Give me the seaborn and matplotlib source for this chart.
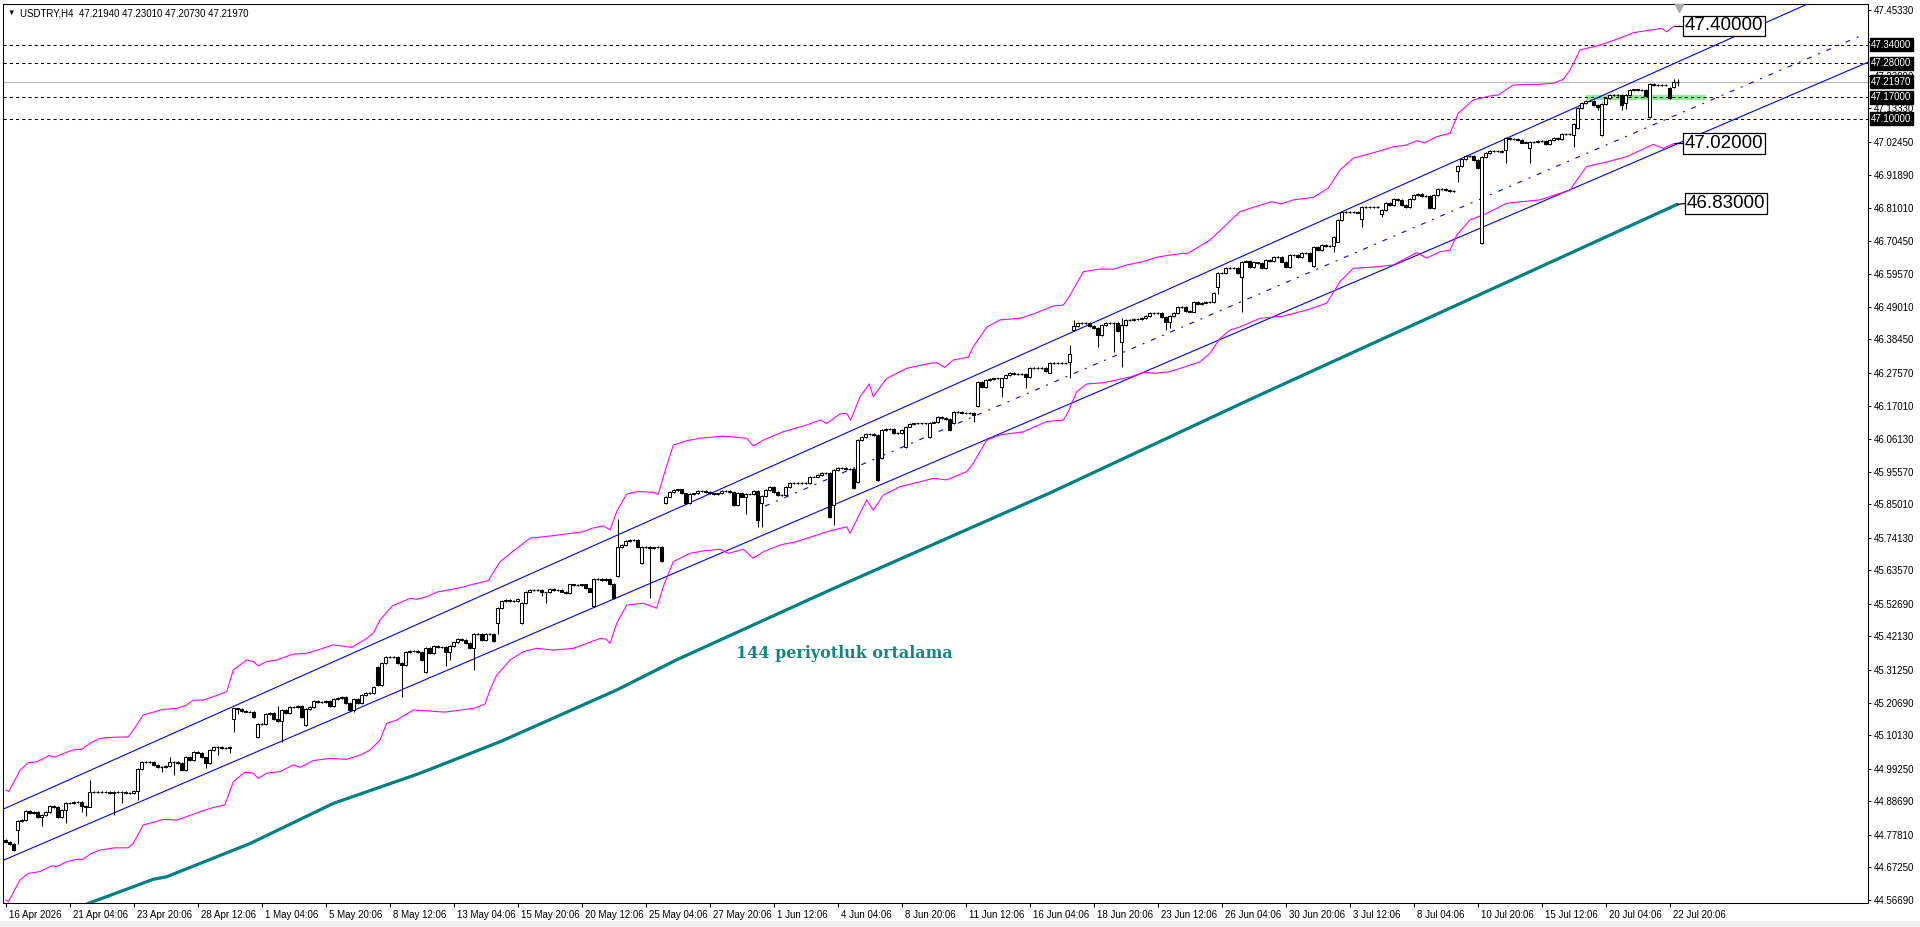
import numpy as np
import pandas as pd
import seaborn as sns
import matplotlib.pyplot as plt
from matplotlib.patches import Rectangle
from matplotlib.transforms import blended_transform_factory, ScaledTranslation

# -------------------------------
# Data (H4 bars, index 0 = 16 Apr 2026)
# -------------------------------
close = [
    44.756, 44.748, 44.729, 44.823, 44.826, 44.856, 44.848, 44.851, 44.835, 44.842,
    44.853, 44.873, 44.869, 44.837, 44.859, 44.880, 44.882, 44.886, 44.885, 44.872,
    44.869, 44.916, 44.918, 44.918, 44.918, 44.916, 44.915, 44.916, 44.918, 44.916,
    44.915, 44.915, 44.920, 44.992, 45.015, 45.015, 45.015, 45.005, 44.999, 44.999,
    45.001, 45.015, 45.015, 45.010, 44.988, 45.032, 45.021, 45.048, 45.045, 45.029,
    45.010, 45.053, 45.062, 45.064, 45.061, 45.061, 45.064, 45.188, 45.185, 45.181,
    45.178, 45.178, 45.161, 45.138, 45.138, 45.169, 45.172, 45.154, 45.148, 45.183,
    45.172, 45.192, 45.194, 45.196, 45.161, 45.185, 45.192, 45.213, 45.210, 45.210,
    45.213, 45.196, 45.219, 45.223, 45.224, 45.205, 45.183, 45.220, 45.205, 45.232,
    45.237, 45.237, 45.258, 45.264, 45.336, 45.356, 45.356, 45.356, 45.336, 45.329,
    45.372, 45.374, 45.375, 45.372,
    45.345, 45.383, 45.367, 45.390, 45.388, 45.386, 45.372, 45.391, 45.402, 45.412,
    45.410, 45.399, 45.383, 45.429, 45.429, 45.410, 45.429, 45.429, 45.408, 45.513,
    45.536, 45.540, 45.537, 45.537, 45.543, 45.529, 45.567, 45.572, 45.572, 45.572,
    45.564, 45.564, 45.576, 45.572, 45.572, 45.567, 45.563, 45.590, 45.588, 45.588,
    45.590, 45.577, 45.567, 45.608, 45.608, 45.604, 45.607, 45.591, 45.545, 45.712,
    45.718, 45.731, 45.734, 45.734, 45.712, 45.712, 45.712, 45.709, 45.710, 45.712,
    45.667, 45.875, 45.891, 45.896, 45.898, 45.885, 45.853, 45.882, 45.885, 45.893,
    45.894, 45.891, 45.885, 45.883, 45.885, 45.893, 45.893, 45.891, 45.848, 45.888,
    45.875, 45.882, 45.883, 45.893, 45.799, 45.877, 45.896, 45.905, 45.891, 45.880,
    45.880, 45.907, 45.920, 45.920, 45.920, 45.920, 45.920, 45.940, 45.940, 45.945,
    45.950, 45.950, 45.810,
    45.961, 45.969, 45.967, 45.964, 45.963, 45.902, 46.058, 46.069, 46.077, 46.078,
    46.075, 45.929, 46.091, 46.093, 46.093, 46.080, 46.080, 46.091, 46.102, 46.110,
    46.112, 46.112, 46.112, 46.112, 46.115, 46.118, 46.132, 46.129, 46.126, 46.091,
    46.150, 46.150, 46.147, 46.145, 46.145, 46.140, 46.248, 46.231, 46.253, 46.256,
    46.258, 46.258, 46.258, 46.269, 46.275, 46.272, 46.272, 46.272, 46.262, 46.293,
    46.293, 46.293, 46.293, 46.282, 46.309, 46.309, 46.309, 46.309, 46.309, 46.336,
    46.428, 46.439, 46.439, 46.439, 46.428, 46.421, 46.399, 46.431, 46.437, 46.439,
    46.439, 46.413, 46.431, 46.448, 46.448, 46.450, 46.451, 46.453, 46.461, 46.469,
    46.471, 46.471, 46.456, 46.442, 46.461, 46.469, 46.491, 46.491, 46.478, 46.475,
    46.507, 46.499, 46.504, 46.507, 46.507, 46.536, 46.599, 46.601, 46.617, 46.617,
    46.615, 46.601, 46.637, 46.640, 46.620,
    46.634, 46.633, 46.615, 46.642, 46.639, 46.651, 46.651, 46.637, 46.620, 46.658,
    46.657, 46.653, 46.664, 46.664, 46.640, 46.685, 46.674, 46.691, 46.687, 46.687,
    46.718, 46.772, 46.799, 46.799, 46.799, 46.799, 46.796, 46.815, 46.815, 46.813,
    46.815, 46.815, 46.804, 46.826, 46.820, 46.839, 46.837, 46.820, 46.815, 46.839,
    46.853, 46.856, 46.850, 46.850, 46.810, 46.853, 46.871, 46.871, 46.869, 46.867,
    46.867, 46.947, 46.968, 46.979, 46.979, 46.966, 46.939, 46.975, 46.990, 46.997,
    46.996, 46.996, 46.993, 47.037, 47.033, 47.033, 47.031, 47.023, 47.026, 47.026,
    47.026, 47.028, 47.028, 47.018, 47.031, 47.037, 47.033, 47.051, 47.051, 47.051,
    47.083, 47.134, 47.150, 47.159, 47.159, 47.145, 47.139, 47.147, 47.166, 47.177,
    47.177, 47.177, 47.145, 47.177, 47.193, 47.195, 47.193, 47.193, 47.174, 47.213,
    47.210, 47.210, 47.210, 47.210, 47.166, 47.220, 47.2197,
]
first_open = 44.760

# bars whose open is not the previous close
gap_open = {
    3: 44.794, 57: 45.154, 63: 45.096, 75: 45.134, 93: 45.323, 105: 45.307,
    123: 45.466, 129: 45.464, 147: 45.521, 153: 45.617, 159: 45.658, 165: 45.853,
    189: 45.853, 207: 45.848, 213: 45.923, 219: 45.999, 225: 46.037, 231: 46.069,
    237: 46.112, 243: 46.167, 249: 46.231, 261: 46.277, 266: 46.310, 267: 46.415,
    279: 46.377, 303: 46.556, 309: 46.588, 327: 46.623, 333: 46.702, 339: 46.774,
    344: 46.791, 363: 46.932, 369: 46.696, 375: 46.999, 381: 47.004, 392: 47.047,
    393: 47.069, 399: 47.047, 405: 47.150, 411: 47.105, 416: 47.199, 417: 47.204,
    418: 47.2194,
}
wick_low = {
    3: 44.748, 9: 44.807, 15: 44.815, 19: 44.853, 20: 44.839, 21: 44.886, 27: 44.842,
    29: 44.880, 33: 44.891, 39: 44.983, 42: 44.972, 50: 44.994, 53: 45.037, 56: 45.042,
    57: 45.113, 58: 45.169, 63: 45.091, 69: 45.080, 87: 45.178, 99: 45.226,
    110: 45.326, 111: 45.345, 117: 45.313, 123: 45.429, 134: 45.554, 135: 45.529,
    161: 45.545, 185: 45.818, 188: 45.777, 189: 45.775, 207: 45.783, 242: 46.118,
    249: 46.197, 255: 46.226, 266: 46.258, 273: 46.361, 277: 46.345, 279: 46.294,
    290: 46.415, 291: 46.420, 303: 46.531, 309: 46.475, 332: 46.669, 339: 46.750,
    344: 46.783, 363: 46.896, 375: 46.956, 381: 46.956, 392: 47.010, 398: 47.128,
    404: 47.128, 405: 47.131, 418: 47.2073,
}
wick_high = {
    21: 44.955, 41: 45.032, 68: 45.196, 153: 45.801, 266: 46.366, 267: 46.448,
    279: 46.453, 417: 47.228, 418: 47.2301,
}

# indicator lines: (bar, price)
upper_band = [
    (0, 44.924), (0.8, 44.918), (3.6, 44.988), (5.65, 45.012), (7.75, 45.015), (10.9, 45.035),
    (12.3, 45.030), (15.25, 45.046), (17.3, 45.055), (19, 45.055), (21.05, 45.075), (23.6, 45.091),
    (26.1, 45.094), (30.65, 45.096), (31.9, 45.118), (34.4, 45.167), (39.4, 45.185), (42.75, 45.188),
    (45.25, 45.199), (46.9, 45.215), (49.4, 45.215), (51.9, 45.226), (55.25, 45.242), (56.9, 45.313),
    (60.25, 45.345), (61.9, 45.340), (63.15, 45.326), (65.2, 45.340), (67.7, 45.345), (71.9, 45.364),
    (75.25, 45.367), (78.6, 45.380), (81.9, 45.394), (84.4, 45.390), (86.5, 45.386), (90.25, 45.415),
    (91.9, 45.432), (93.6, 45.475), (96.6, 45.520), (101.1, 45.545), (102.75, 45.542), (105.25, 45.550),
    (107.75, 45.565), (111.9, 45.575), (114.8, 45.583), (116.9, 45.591), (120.65, 45.602), (123.6, 45.664),
    (127.75, 45.707), (131.1, 45.740), (136.1, 45.747), (140.25, 45.754), (144.4, 45.761), (146.5, 45.772),
    (149.4, 45.780), (151.1, 45.767), (152.75, 45.826), (155.25, 45.883), (157.75, 45.891), (161.9, 45.889),
    (163.15, 45.882), (164.4, 45.939), (166.9, 46.042), (170.25, 46.056), (173.6, 46.064), (179.4, 46.071),
    (185.25, 46.064), (186.9, 46.039), (189.4, 46.058), (194.3, 46.085), (200.25, 46.107), (203.6, 46.123),
    (205.25, 46.112), (208.6, 46.143), (210.25, 46.145), (211.25, 46.123), (213.6, 46.199), (215.9, 46.240),
    (216.9, 46.199), (220.25, 46.258), (225.25, 46.291), (231.1, 46.307), (232.75, 46.309), (234.8, 46.294),
    (236.9, 46.318), (240.65, 46.327), (241.9, 46.361), (245.25, 46.424), (248.6, 46.448), (253.6, 46.453),
    (256.9, 46.467), (261.9, 46.493), (264.4, 46.496), (265.65, 46.518), (269.4, 46.604), (273.6, 46.613),
    (276.9, 46.612), (280.25, 46.626), (284.4, 46.637), (287.75, 46.651), (291.1, 46.658), (294.4, 46.664),
    (295.25, 46.662), (298.6, 46.687), (301.1, 46.707), (308.6, 46.799), (311.9, 46.813), (316.5, 46.831),
    (319, 46.824), (321.9, 46.837), (326.9, 46.845), (330.65, 46.875), (333.6, 46.934), (336.9, 46.972),
    (342.75, 46.993), (346.9, 47.009), (350.25, 47.015), (352.75, 47.029), (354.8, 47.022), (357.75, 47.042),
    (361.1, 47.053), (363.15, 47.118), (366.9, 47.161), (371.1, 47.174), (373.15, 47.177), (374.4, 47.188),
    (376.9, 47.210), (383.6, 47.212), (386.9, 47.215), (389.4, 47.228), (391.1, 47.258), (393.6, 47.323),
    (398.6, 47.339), (402.75, 47.358), (406.9, 47.379), (410.25, 47.386), (414, 47.393), (415.25, 47.382),
    (417.1, 47.401),
]
lower_band = [
    (0, 44.567), (0.65, 44.561), (3.6, 44.632), (5.65, 44.653), (8.6, 44.659), (11.5, 44.678),
    (12.75, 44.675), (15.25, 44.691), (17.75, 44.699), (19, 44.697), (21.5, 44.718), (23.6, 44.729),
    (27.3, 44.736), (30.65, 44.736), (31.9, 44.751), (34.4, 44.810), (39.4, 44.828), (42.75, 44.826),
    (45.25, 44.837), (48.6, 44.853), (51.9, 44.867), (54.8, 44.875), (56.9, 44.950), (59.8, 44.981),
    (61.9, 44.978), (63.15, 44.961), (65.25, 44.978), (68.6, 44.983), (71.9, 45.005), (73.6, 44.997),
    (76.9, 45.019), (81.1, 45.026), (85.25, 45.023), (88.6, 45.037), (91.1, 45.053), (93.6, 45.086),
    (95.25, 45.140), (97.75, 45.150), (101.9, 45.183), (109.8, 45.176), (117.3, 45.189), (119.8, 45.202),
    (121.1, 45.248), (122.75, 45.296), (126.1, 45.345), (129.4, 45.372), (132.75, 45.383), (136.9, 45.377),
    (141.9, 45.383), (145.25, 45.399), (148.6, 45.415), (150.1, 45.413), (151.1, 45.399), (152.75, 45.464),
    (155.25, 45.523), (159.4, 45.529), (162.75, 45.513), (164.4, 45.583), (166.9, 45.664), (171.1, 45.691),
    (174.4, 45.699), (178.6, 45.704), (180.65, 45.691), (184.4, 45.704), (186.9, 45.675), (189.4, 45.696),
    (193.6, 45.718), (197.75, 45.729), (202.75, 45.750), (205.25, 45.761), (210.25, 45.777), (211.1, 45.756),
    (213.6, 45.821), (215.25, 45.864), (216.9, 45.831), (219.4, 45.880), (223.6, 45.907), (228.6, 45.923),
    (231.9, 45.934), (235.25, 45.929), (240.25, 45.956), (241.9, 45.983), (245.25, 46.058), (248.6, 46.075),
    (254.4, 46.085), (260.25, 46.118), (264.4, 46.123), (265.65, 46.150), (267.75, 46.215), (270.25, 46.240),
    (274.4, 46.244), (277.75, 46.253), (281.5, 46.264), (284.4, 46.277), (287.75, 46.275), (291.1, 46.280),
    (294.4, 46.294), (298.6, 46.312), (301.1, 46.340), (303.6, 46.388), (306.1, 46.415), (308.6, 46.425),
    (313.6, 46.453), (319.4, 46.460), (325.25, 46.480), (330.25, 46.502), (333.6, 46.572), (336.9, 46.615),
    (342.75, 46.620), (346.9, 46.626), (352.75, 46.666), (355.25, 46.648), (358.6, 46.669), (361.1, 46.674),
    (362.75, 46.723), (366.1, 46.772), (370.25, 46.793), (375.25, 46.826), (383.6, 46.837), (391.1, 46.869),
    (392.75, 46.901), (395.25, 46.945), (400.25, 46.960), (405.25, 46.977), (411.9, 47.017), (414.4, 47.004),
    (417.1, 47.020),
]
ma_line = [
    (20.3, 44.554), (36.9, 44.634), (40.2, 44.642), (61.1, 44.750), (81.9, 44.880), (103.6, 44.978),
    (123.6, 45.080), (152.8, 45.248), (167.8, 45.346), (206.1, 45.572), (261.1, 45.887), (311.1, 46.190),
    (338.1, 46.350), (373.6, 46.560), (417.8, 46.822),
]
channel_upper = [(0, 44.865), (398.6, 47.172)]
channel_lower = [(0, 44.699), (465.5, 47.283)]
channel_mid = [(189.8, 45.844), (464.3, 47.372)]

level_lines = [47.34, 47.28, 47.17, 47.10]
last_price = 47.2197
zone_start, zone_end, zone_price = 394.8, 424.8, 47.171

callouts = [  # (line end bar, line end price, box bar, box price, text)
    (417.1, 47.401, 419.8, 47.401, "47.40000"),
    (417.1, 47.020, 419.8, 47.020, "47.02000"),
    (417.8, 46.822, 420.3, 46.826, "46.83000"),
]

x_labels = ["16 Apr 2026", "21 Apr 04:06", "23 Apr 20:06", "28 Apr 12:06", "1 May 04:06",
            "5 May 20:06", "8 May 12:06", "13 May 04:06", "15 May 20:06", "20 May 12:06",
            "25 May 04:06", "27 May 20:06", "1 Jun 12:06", "4 Jun 04:06", "8 Jun 20:06",
            "11 Jun 12:06", "16 Jun 04:06", "18 Jun 20:06", "23 Jun 12:06", "26 Jun 04:06",
            "30 Jun 20:06", "3 Jul 12:06", "8 Jul 04:06", "10 Jul 20:06", "15 Jul 12:06",
            "20 Jul 04:06", "22 Jul 20:06"]
bars_per_label = 16
y_ticks = [47.4533, 47.3477, 47.2389, 47.1333, 47.0245, 46.9189, 46.8101, 46.7045, 46.5957,
           46.4901, 46.3845, 46.2757, 46.1701, 46.0613, 45.9557, 45.8501, 45.7413, 45.6357,
           45.5269, 45.4213, 45.3125, 45.2069, 45.1013, 44.9925, 44.8869, 44.7781, 44.6725,
           44.5669]

title = "USDTRY,H4  47.21940 47.23010 47.20730 47.21970"
ma_caption = "144 periyotluk ortalama"

# -------------------------------
# Figure
# -------------------------------
sns.set_theme(style="white")
plt.rcParams['font.family'] = ['Liberation Sans', 'DejaVu Sans']

fig = plt.figure(figsize=(19.2, 9.27), dpi=100)
fig.patch.set_facecolor("white")
ax = fig.add_axes([3 / 1920, 24 / 927, 1865 / 1920, 899 / 927])
ax.set_facecolor("white")
ax.set_xlim(-0.675, 465.575)
ax.set_ylim(44.5571, 47.4721)

# levels
for lvl in level_lines:
    ax.axhline(lvl, color="black", lw=0.75, ls=(0, (3, 3)), zorder=2)
ax.axhline(last_price, color="#c0c0c0", lw=0.9, zorder=1)
ax.hlines(zone_price, zone_start, zone_end, color="#90ee90", lw=3.8, zorder=1.5)

# channel
ax.axline(channel_upper[0], channel_upper[1], color="#0000ff", lw=0.8, zorder=3)
ax.axline(channel_lower[0], channel_lower[1], color="#0000ff", lw=0.8, zorder=3)
ax.plot([p[0] for p in channel_mid], [p[1] for p in channel_mid], color="#0000ff", lw=0.8,
        ls=(0, (4.5, 6.3, 1.8, 6.3)), zorder=3)

# bands and moving average
df_ub = pd.DataFrame(upper_band, columns=["bar", "price"])
df_lb = pd.DataFrame(lower_band, columns=["bar", "price"])
df_ma = pd.DataFrame(ma_line, columns=["bar", "price"])
sns.lineplot(data=df_ub, x="bar", y="price", color="#ff00ff", lw=0.8, sort=False, estimator=None, ax=ax, zorder=3)
sns.lineplot(data=df_lb, x="bar", y="price", color="#ff00ff", lw=0.8, sort=False, estimator=None, ax=ax, zorder=3)
sns.lineplot(data=df_ma, x="bar", y="price", color="#008080", lw=2.3, sort=False, estimator=None, ax=ax, zorder=3)

# candles
n = len(close)
xs = np.arange(n)
closes = np.array(close)
opens = np.array([first_open] + close[:-1])
for k, v in gap_open.items():
    opens[k] = v
pad = 0.003
highs = np.maximum(opens, closes) + pad
lows = np.minimum(opens, closes) - pad
for k, v in wick_high.items():
    highs[k] = max(v, max(opens[k], closes[k]))
for k, v in wick_low.items():
    lows[k] = min(v, min(opens[k], closes[k]))

ax.vlines(xs, lows, highs, color="black", lw=0.75, zorder=4)
up = closes > opens + 0.0008
down = closes < opens - 0.0008
flat = ~(up | down)
ax.bar(xs[up], (closes - opens)[up], bottom=opens[up], width=0.72,
       facecolor="white", edgecolor="black", lw=0.75, zorder=5)
ax.bar(xs[down], (opens - closes)[down], bottom=closes[down], width=0.72,
       facecolor="black", edgecolor="black", lw=0.75, zorder=5)
ax.hlines(closes[flat], xs[flat] - 0.4, xs[flat] + 0.4, color="black", lw=0.9, zorder=5)

# callout boxes
for x_end, y_end, x_box, y_box, txt in callouts:
    ax.plot([x_end, x_box], [y_end, y_box], color="black", lw=0.9, zorder=6, solid_capstyle="butt")
    ax.text(x_box, y_box, txt, fontsize=13.5, ha="left", va="center", color="black", zorder=11,
            bbox=dict(boxstyle="square,pad=0.1", fc="white", ec="black", lw=0.9))

ax.text(182.7, 45.365, ma_caption, fontsize=11.5, family="DejaVu Serif", fontweight="bold",
        color="#13877f", ha="left", va="center", zorder=6)

# axes styling
for s in ax.spines.values():
    s.set_visible(True)
    s.set_color("black")
    s.set_linewidth(0.75)

ax.set_xlabel("")
ax.set_ylabel("")
ax.set_xticks(np.arange(0, bars_per_label * len(x_labels), bars_per_label))
ax.set_xticklabels(x_labels, ha="left", fontsize=7, color="black")
ax.tick_params(axis="x", direction="out", length=3, width=0.75, pad=2, colors="black", bottom=True)
shift = ScaledTranslation(3 / 100, 0, fig.dpi_scale_trans)
for lbl in ax.get_xticklabels():
    lbl.set_transform(lbl.get_transform() + shift)

ax.yaxis.tick_right()
ax.set_yticks(y_ticks)
ax.set_yticklabels([f"{v:.5f}" for v in y_ticks], fontsize=7, color="black")
ax.tick_params(axis="y", direction="out", length=2.5, width=0.75, pad=2, colors="black",
               right=True, left=False, labelright=True, labelleft=False)

# price tags on the right axis
trans = blended_transform_factory(ax.transAxes, ax.transData)
for lvl in level_lines + [last_price]:
    ax.text(1.0016, lvl, f"{lvl:.5f}", transform=trans, ha="left", va="center", fontsize=7,
            color="white", zorder=12, clip_on=False,
            bbox=dict(boxstyle="square,pad=0.15", fc="black", ec="black"))

# chart shift marker
ax.plot([418.4], [0.996], transform=blended_transform_factory(ax.transData, ax.transAxes),
        marker="v", color="#a9a9a9", markersize=5.5, clip_on=False, zorder=12)

# title
fig.text(7 / 1920, 1 - 13 / 927, "▼", fontsize=5.5, color="black", va="center", ha="left")
fig.text(20 / 1920, 1 - 13 / 927, title, fontsize=7, color="black", va="center", ha="left")

fig.patches.append(Rectangle((0, 0), 1, 6 / 927, transform=fig.transFigure,
                             facecolor="#f0f0f0", edgecolor="none"))

fig.savefig("out.png", dpi=100)
